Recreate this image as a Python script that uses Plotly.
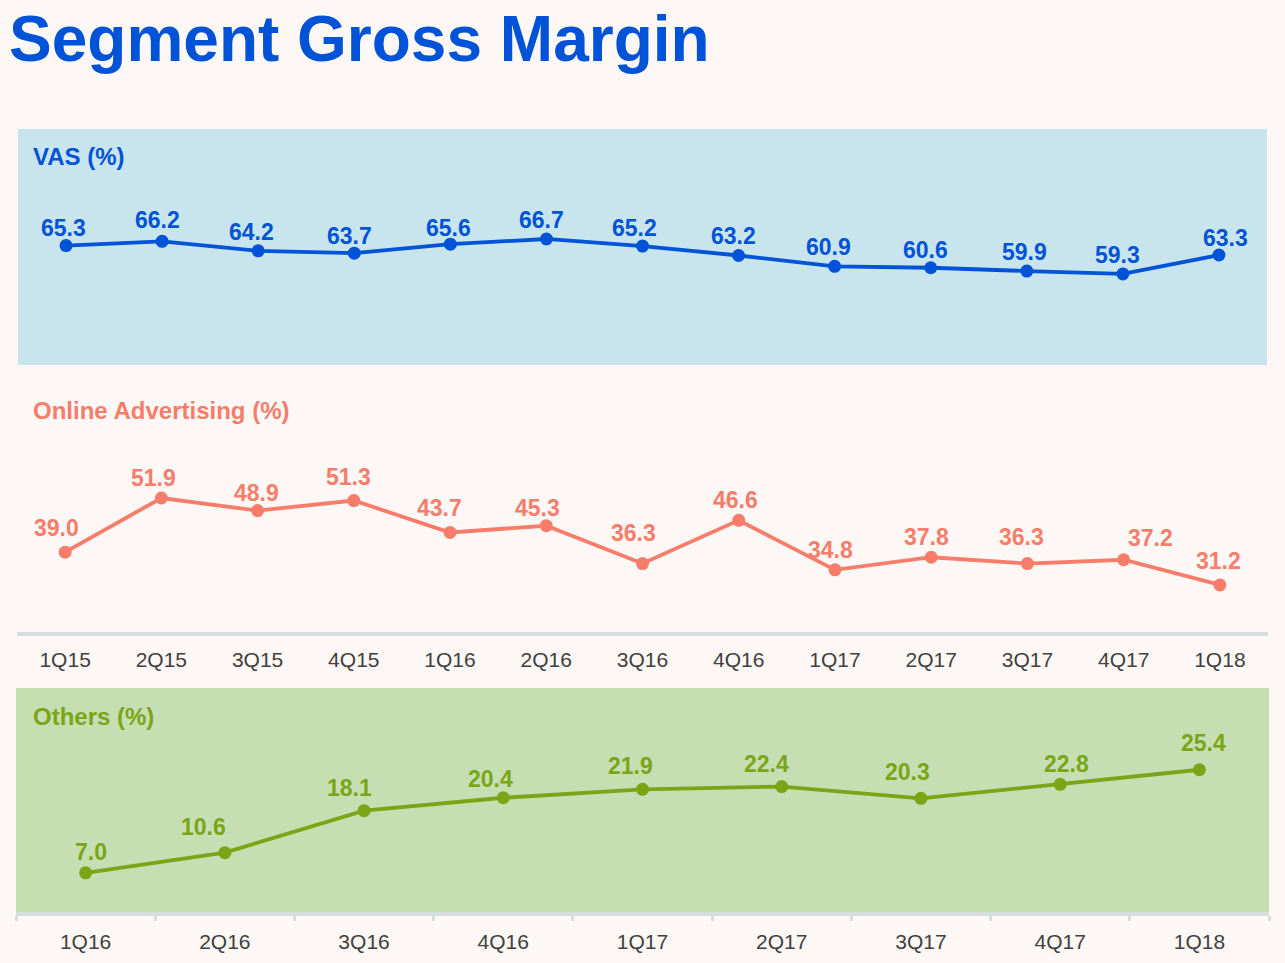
import plotly.graph_objects as go

# ---- data ----
quarters_all = ["1Q15", "2Q15", "3Q15", "4Q15", "1Q16", "2Q16", "3Q16", "4Q16",
                "1Q17", "2Q17", "3Q17", "4Q17", "1Q18"]
vas = [65.3, 66.2, 64.2, 63.7, 65.6, 66.7, 65.2, 63.2, 60.9, 60.6, 59.9, 59.3, 63.3]
online_adv = [39.0, 51.9, 48.9, 51.3, 43.7, 45.3, 36.3, 46.6, 34.8, 37.8, 36.3, 37.2, 31.2]
quarters_others = ["1Q16", "2Q16", "3Q16", "4Q16", "1Q17", "2Q17", "3Q17", "4Q17", "1Q18"]
others = [7.0, 10.6, 18.1, 20.4, 21.9, 22.4, 20.3, 22.8, 25.4]

# ---- label placement styles (pixel offsets of each data label from its point) ----
vas_lbl_dx = [-3, -5, -7, -5, -2, -5, -8, -5, -6, -5, -2, -5, 7]
vas_lbl_dy = [19, 22, 20, 18, 17, 20, 19, 21, 20, 19, 20, 20, 18]
adv_lbl_dx = [-9, -8, -1, -5, -11, -9, -9, -3, -4, -5, -6, 27, -1]
adv_lbl_dy = [25, 21, 19, 25, 25, 19, 32, 21, 21, 21, 28, 23, 25]
oth_lbl_dx = [5, -21, -15, -13, -12, -15, -13, 6, 4]
oth_lbl_dy = [22, 27, 24, 20, 24, 24, 27, 21, 28]

W, H = 1285, 963
BG = "#FDF8F5"
BLUE = "#0052D6"
SALMON = "#F87C6A"
GREEN = "#7AA516"
AXIS_GRAY = "#D4DEDC"
FONT = "Liberation Sans, Arial, sans-serif"


def px_x(v):
    return v / W


def px_y(v):
    return 1 - v / H


fig = go.Figure()


def add_series(x, y, color, xa, ya, dxs, dys):
    fig.add_trace(go.Scatter(
        x=x, y=y, xaxis=xa, yaxis=ya,
        mode="lines+markers",
        line=dict(color=color, width=3.8),
        marker=dict(color=color, size=13),
        hoverinfo="skip",
        showlegend=False,
    ))
    for xi, yi, dx, dy in zip(x, y, dxs, dys):
        fig.add_annotation(
            x=xi, y=yi, xref=xa, yref=ya,
            text="<b>%.1f</b>" % yi, showarrow=False,
            xanchor="center", yanchor="middle",
            xshift=dx, yshift=dy - 1,
            font=dict(color=color, size=23, family=FONT),
        )


add_series(quarters_all, vas, BLUE, "x", "y", vas_lbl_dx, vas_lbl_dy)
add_series(quarters_all, online_adv, SALMON, "x2", "y2", adv_lbl_dx, adv_lbl_dy)
add_series(quarters_others, others, GREEN, "x3", "y3", oth_lbl_dx, oth_lbl_dy)

fig.update_layout(
    width=W, height=H,
    margin=dict(l=0, r=0, t=0, b=0),
    paper_bgcolor=BG, plot_bgcolor=BG,
    font=dict(family=FONT),
    xaxis=dict(domain=[px_x(18), px_x(1267)], anchor="y", type="category",
               range=[-0.5, 12.5], showticklabels=False, showgrid=False,
               zeroline=False, showline=False),
    yaxis=dict(domain=[px_y(365), px_y(129)], anchor="x", range=[40, 90],
               showticklabels=False, showgrid=False, zeroline=False),
    xaxis2=dict(domain=[px_x(17), px_x(1268)], anchor="y2", type="category",
                range=[-0.5, 12.5], showgrid=False, zeroline=False,
                showline=True, linecolor=AXIS_GRAY, linewidth=4,
                ticks="", ticklabelstandoff=6,
                tickfont=dict(size=21, color="#404040", family=FONT)),
    yaxis2=dict(domain=[px_y(632), px_y(380)], anchor="x2", range=[20, 80],
                showticklabels=False, showgrid=False, zeroline=False),
    xaxis3=dict(domain=[px_x(16), px_x(1269)], anchor="y3", type="category",
                range=[-0.5, 8.5], showgrid=False, zeroline=False,
                showline=True, linecolor=AXIS_GRAY, linewidth=4,
                ticks="outside", tickson="boundaries", ticklen=5, tickwidth=3,
                tickcolor=AXIS_GRAY, ticklabelstandoff=8,
                tickfont=dict(size=21, color="#404040", family=FONT)),
    yaxis3=dict(domain=[px_y(912), px_y(688)], anchor="x3", range=[0, 40],
                showticklabels=False, showgrid=False, zeroline=False),
)

# panel backgrounds
fig.add_shape(type="rect", xref="x domain", yref="y domain", x0=0, x1=1, y0=0, y1=1,
              fillcolor="#C8E5EE", line=dict(width=0), layer="below")
fig.add_shape(type="rect", xref="x3 domain", yref="y3 domain", x0=0, x1=1, y0=0, y1=1,
              fillcolor="#C5DFB2", line=dict(width=0), layer="below")

# title
fig.add_annotation(text="<b>Segment Gross Margin</b>", xref="paper", yref="paper",
                   x=px_x(7), y=px_y(39), xanchor="left", yanchor="middle",
                   showarrow=False, font=dict(size=64, color=BLUE, family=FONT))

# panel titles
for txt, ypx, col in [("VAS (%)", 156, BLUE),
                      ("Online Advertising (%)", 410, SALMON),
                      ("Others (%)", 716, GREEN)]:
    fig.add_annotation(text="<b>" + txt + "</b>", xref="paper", yref="paper",
                       x=px_x(31), y=px_y(ypx), xanchor="left", yanchor="middle",
                       showarrow=False, font=dict(size=24, color=col, family=FONT))

fig.write_html(
    "out.html",
    config={"displayModeBar": False},
    post_script="document.body.style.margin='0';"
                "document.body.style.background='#FDF8F5';",
)
